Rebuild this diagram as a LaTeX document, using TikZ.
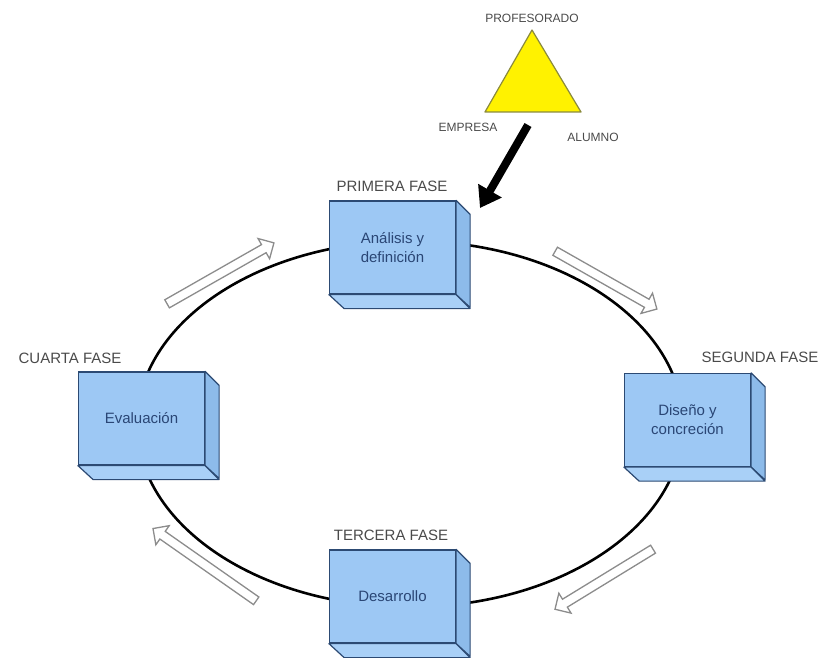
\documentclass[tikz,border=0pt]{standalone}
\usepackage{fontspec}
\setmainfont{Liberation Sans}
\usetikzlibrary{arrows.meta,shapes.arrows}

\definecolor{frenteazul}{HTML}{9DC8F4}
\definecolor{ladoazul}{HTML}{8DBBEA}
\definecolor{baseazul}{HTML}{A9D0F7}
\definecolor{bordeazul}{HTML}{2C4A73}
\definecolor{textoazul}{HTML}{2A4675}
\definecolor{textofase}{HTML}{4A4A4A}
\definecolor{bordeflecha}{HTML}{8C8C8C}
\definecolor{bordetri}{HTML}{8A8A3C}

% caras laterales de cada caja
\newcommand{\caraslaterales}[1]{%
    \filldraw[draw=bordeazul, fill=ladoazul, line width=1.2pt, line join=round]
        (#1.north east) -- ++(14,14) -- ++(0,93) -- (#1.south east) -- cycle;
    \filldraw[draw=bordeazul, fill=baseazul, line width=1.2pt, line join=round]
        (#1.south west) -- (#1.south east) -- ++(14,14) -- ++(-126,0) -- cycle;
}

\tikzset{
    fase/.style={draw=bordeazul, fill=frenteazul, line width=1.2pt,
        minimum width=126pt, minimum height=93pt, align=center,
        text=textoazul, font=\fontsize{15}{19}\selectfont},
    titulofase/.style={text=textofase, font=\fontsize{15}{18}\selectfont},
    vertice/.style={text=textofase, font=\fontsize{12}{14}\selectfont},
    flechahueca/.style={single arrow, draw=bordeflecha, fill=white, line width=1.3pt,
        inner sep=4pt, single arrow head extend=7pt, minimum height=#1}
}

\begin{document}
\begin{tikzpicture}[x=1pt, y=-1pt]
    \useasboundingbox (0,0) rectangle (825,658);

    % ciclo
    \draw[line width=2.6pt] (410,424) ellipse [x radius=273, y radius=183];

    % flechas huecas
    \node[flechahueca=123pt, rotate=29.7]   (flechaTI) at (218.5,274.5) {};
    \node[flechahueca=117pt, rotate=-29.6]  (flechaTD) at (604,279) {};
    \node[flechahueca=115pt, rotate=-148.5] (flechaBD) at (606,578) {};
    \node[flechahueca=126pt, rotate=145]    (flechaBI) at (206.5,566) {};

    % fases
    \begin{scope}[every node/.style={fase}]
        \node (primera) at (392.5,247.5) {Análisis y\\definición};
        \node (segunda) at (687.5,420)   {Diseño y\\concreción};
        \node (tercera) at (392.5,596.5) {Desarrollo};
        \node (cuarta)  at (141.5,418.5) {Evaluación};
    \end{scope}
    \caraslaterales{primera}
    \caraslaterales{segunda}
    \caraslaterales{tercera}
    \caraslaterales{cuarta}

    \begin{scope}[every node/.style={titulofase}]
        \node (tprimera) at (392,186) {PRIMERA FASE};
        \node (tsegunda) at (760,357) {SEGUNDA FASE};
        \node (ttercera) at (391,535) {TERCERA FASE};
        \node (tcuarta)  at (70,358)  {CUARTA FASE};
    \end{scope}

    % triangulo
    \coordinate (profesorado) at (532,30);
    \coordinate (empresa) at (485,112);
    \coordinate (alumno) at (581,112);
    \filldraw[fill=yellow, draw=bordetri, line width=1.2pt, line join=round]
        (profesorado) -- (alumno) -- (empresa) -- cycle;
    \node[vertice] (tprof) at (532,18)  {PROFESORADO};
    \node[vertice] (temp)  at (468,127) {EMPRESA};
    \node[vertice] (talum) at (593,137) {ALUMNO};

    \coordinate (flechaIni) at (528,125);
    \coordinate (flechaFin) at (480,208);
    \draw[line width=8pt, -{Triangle[length=20pt, width=26pt]}] (flechaIni) -- (flechaFin);
\end{tikzpicture}
\end{document}
